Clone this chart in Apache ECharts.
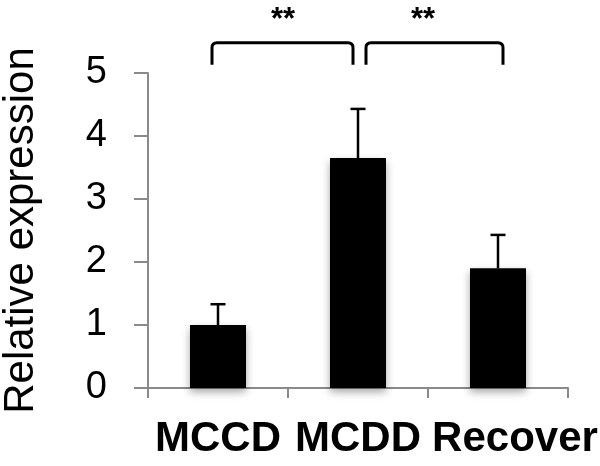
<!DOCTYPE html>
<html>
<head>
<meta charset="utf-8">
<script src="https://cdn.jsdelivr.net/npm/echarts@6/dist/echarts.min.js"></script>
<style>
  html, body { margin: 0; padding: 0; background: #fff; }
  #chart { width: 600px; height: 466px; }
</style>
</head>
<body>
<div id="chart"></div>
<script>
// data
const categories = ['MCCD', 'MCDD', 'Recover']
const means = [1.0, 3.65, 1.9]
const errors = [0.33, 0.78, 0.53]
const yTicks = [0, 1, 2, 3, 4, 5]
// significance brackets: [from, to], top level, leg end level, label
const bracketPairs = [[0, 1], [1, 2]]
const bracketTop = [5.48, 5.48]
const bracketFoot = [5.13, 5.13]
const bracketLabels = ['**', '**']
const starLevel = 5.84

const FONT = '"Liberation Sans", Arial, Helvetica, sans-serif'
const AXIS_GREY = '#8a8a8a'
// pixel nudges so the two brackets don't touch (style only)
const bracketShift = [[-6, -5], [8, 5]]

const chart = echarts.init(document.getElementById('chart'))

const option = {
  animation: false,
  grid: { left: 148, right: 32, top: 73, bottom: 78, outerBoundsMode: 'none', containLabel: false },
  xAxis: {
    type: 'category',
    data: categories.map((c, i) => (i === 2 ? { value: c, textStyle: { padding: [0, 0, 0, 34] } } : c)),
    axisLine: { lineStyle: { color: AXIS_GREY, width: 2 } },
    axisTick: { show: true, length: 10, lineStyle: { color: AXIS_GREY, width: 2 } },
    axisLabel: {
      interval: 0,
      hideOverlap: false,
      margin: 30,
      color: '#000',
      fontFamily: FONT,
      fontWeight: 'bold',
      fontSize: 42
    }
  },
  yAxis: {
    type: 'value',
    min: yTicks[0],
    max: yTicks[yTicks.length - 1],
    interval: 1,
    name: 'Relative expression',
    nameLocation: 'middle',
    nameGap: 106,
    nameTextStyle: { color: '#000', fontFamily: FONT, fontSize: 42 },
    axisLine: { show: true, lineStyle: { color: AXIS_GREY, width: 2 } },
    axisTick: { show: true, length: 14, lineStyle: { color: AXIS_GREY, width: 2 } },
    splitLine: { show: false },
    axisLabel: { margin: 41, color: '#000', fontFamily: FONT, fontSize: 38 }
  },
  series: [
    {
      type: 'bar',
      data: means,
      barWidth: '40%',
      itemStyle: {
        color: '#000',
        shadowColor: 'rgba(0,0,0,0.35)',
        shadowBlur: 8,
        shadowOffsetY: 4
      },
      z: 2
    },
    {
      // error bars (upper only)
      type: 'custom',
      data: means.map((m, i) => [i, m, m + errors[i]]),
      renderItem: (params, api) => {
        const base = api.coord([api.value(0), api.value(1)])
        const top = api.coord([api.value(0), api.value(2)])
        const half = 7.5
        return {
          type: 'group',
          children: [
            { type: 'line', shape: { x1: base[0], y1: base[1], x2: top[0], y2: top[1] }, style: { stroke: '#000', lineWidth: 2.5 } },
            { type: 'line', shape: { x1: top[0] - half, y1: top[1], x2: top[0] + half, y2: top[1] }, style: { stroke: '#000', lineWidth: 2.5 } }
          ]
        }
      },
      z: 3
    },
    {
      // significance brackets
      type: 'custom',
      clip: false,
      data: bracketPairs.map((p, i) => [p[0], p[1], bracketTop[i], bracketFoot[i], i]),
      renderItem: (params, api) => {
        const k = api.value(4)
        const a = api.coord([api.value(0), api.value(2)])
        const b = api.coord([api.value(1), api.value(2)])
        const foot = api.coord([api.value(0), api.value(3)])[1]
        const x1 = a[0] + bracketShift[k][0]
        const x2 = b[0] + bracketShift[k][1]
        const y = a[1]
        const r = 5
        return {
          type: 'path',
          shape: {
            pathData: `M${x1},${foot} L${x1},${y + r} Q${x1},${y} ${x1 + r},${y} L${x2 - r},${y} Q${x2},${y} ${x2},${y + r} L${x2},${foot}`
          },
          style: { stroke: '#000', lineWidth: 3, fill: null }
        }
      },
      z: 3
    },
    {
      // stars
      type: 'custom',
      clip: false,
      data: bracketPairs.map((p, i) => [p[0], p[1], starLevel, i]),
      renderItem: (params, api) => {
        const a = api.coord([api.value(0), api.value(2)])
        const b = api.coord([api.value(1), api.value(2)])
        return {
          type: 'text',
          style: {
            x: (a[0] + b[0]) / 2 - 5,
            y: a[1],
            text: bracketLabels[api.value(3)],
            align: 'center',
            verticalAlign: 'middle',
            fill: '#000',
            font: 'bold 31px ' + FONT
          }
        }
      },
      z: 3
    }
  ]
}

chart.setOption(option)
</script>
</body>
</html>
